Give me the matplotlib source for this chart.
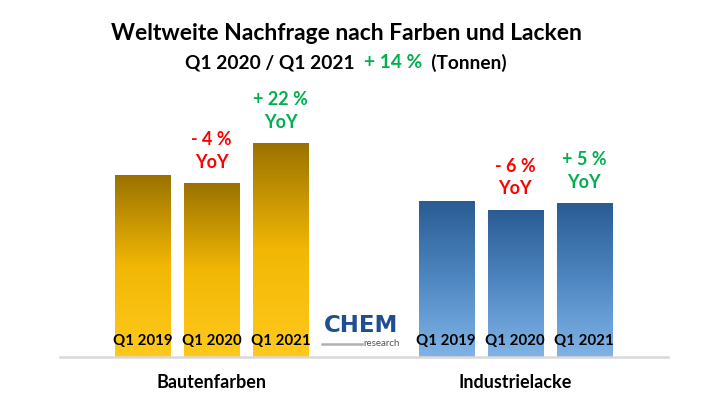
import numpy as np
import matplotlib.pyplot as plt
from matplotlib.colors import LinearSegmentedColormap

plt.rcParams['font.family'] = ['Lato', 'DejaVu Sans']

# data (relative bar heights)
groups = ['Bautenfarben', 'Industrielacke']
quarters = ['Q1 2019', 'Q1 2020', 'Q1 2021']
bautenfarben = [182, 174, 214]
industrielacke = [156, 147, 154]
yoy_bauten = [None, '- 4 %', '+ 22 %']
yoy_industrie = [None, '- 6 %', '+ 5 %']

RED = '#ff0000'
GREEN = '#00b050'

gold = LinearSegmentedColormap.from_list('gold', ['#ffca1c', '#f2b705', '#9a7200'])
blue = LinearSegmentedColormap.from_list('blue', ['#80b4e6', '#4f87c2', '#2a5c93'])

fig = plt.figure(figsize=(7.2, 4.05), dpi=100)
ax = fig.add_axes([60 / 720, 48 / 405, 608 / 720, 297 / 405])

x_left = np.arange(3)
x_right = np.arange(3) + 4.4
width = 0.8

grad = np.linspace(0, 1, 256).reshape(-1, 1)

def draw_group(xs, vals, cmap, yoy):
    bars = ax.bar(xs, vals, width=width, color='none', edgecolor='none')
    for bar, q, lab in zip(bars, quarters, yoy):
        x0, h = bar.get_x(), bar.get_height()
        im = ax.imshow(grad, cmap=cmap, origin='lower', aspect='auto',
                       extent=(x0, x0 + bar.get_width(), 0, h), zorder=1)
        im.set_clip_path(bar)
        ax.text(bar.get_x() + bar.get_width() / 2, 16, q, ha='center', va='center',
                fontsize=10.8, fontweight='bold', color='black', zorder=3)
        if lab:
            c = GREEN if lab.startswith('+') else RED
            ax.annotate(lab + '\nYoY', xy=(bar.get_x() + bar.get_width() / 2, h),
                        xytext=(0, 9), textcoords='offset points', ha='center',
                        va='bottom', fontsize=13, fontweight='bold', color=c,
                        linespacing=1.4)

draw_group(x_left, bautenfarben, gold, yoy_bauten)
draw_group(x_right, industrielacke, blue, yoy_industrie)

ax.set_xlim(-1.196, 7.616)
ax.set_ylim(0, 297)
for s in ['top', 'left', 'right']:
    ax.spines[s].set_visible(False)
ax.spines['bottom'].set_color('#d9d9d9')
ax.spines['bottom'].set_linewidth(1.8)
ax.set_yticks([])
ax.set_xticks([x_left.mean(), x_right.mean()])
ax.set_xticklabels(groups, fontsize=13, fontweight='bold')
ax.tick_params(axis='x', length=0, pad=12)

# title
fig.text(346.5 / 720, 1 - 34 / 405, 'Weltweite Nachfrage nach Farben und Lacken',
         ha='center', va='center', fontsize=16.5, fontweight='bold')
t1 = fig.text(185 / 720, 1 - 63 / 405, 'Q1 2020 / Q1 2021  ', ha='left',
              va='center', fontsize=13.8, fontweight='bold')
t2 = ax.annotate('+ 14 %', xy=(1, 0.5), xycoords=t1, va='center', ha='left',
                 fontsize=13.8, fontweight='bold', color=GREEN)
ax.annotate('  (Tonnen)', xy=(1, 0.5), xycoords=t2, va='center', ha='left',
            fontsize=13.8, fontweight='bold')

# logo
fig.text(361 / 720, 1 - 326 / 405, 'CHEM', ha='center', va='center', fontsize=16.5,
         fontweight='bold', color='#1f4f8f', family='DejaVu Sans')
fig.text(400 / 720, 1 - 344 / 405, 'research', ha='right', va='center',
         fontsize=7, color='#555555')
fig.add_artist(plt.Line2D([322 / 720, 362 / 720], [1 - 344 / 405] * 2,
                          color='#b0b0b0', lw=1.8))

plt.savefig('out.png', dpi=100)
